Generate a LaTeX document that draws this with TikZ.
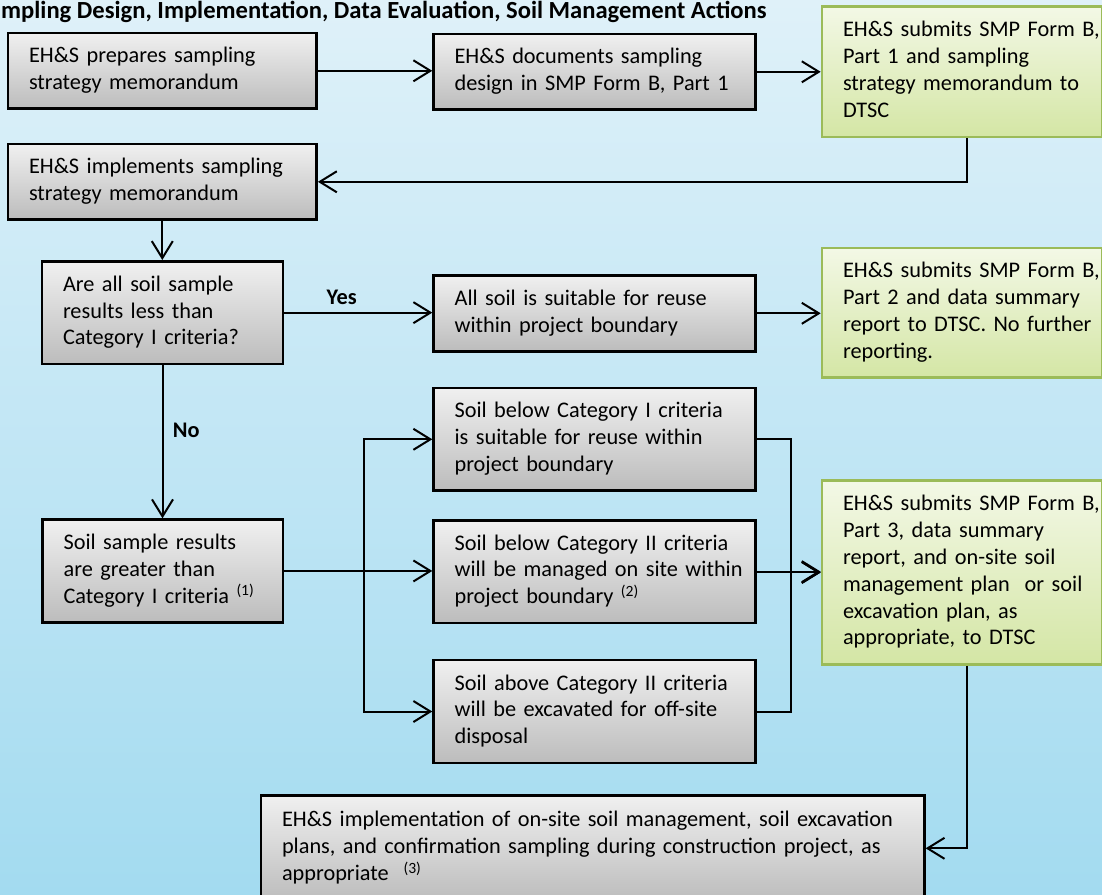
\documentclass[tikz,border=0pt]{standalone}
\usepackage{fontspec}
\setmainfont{Carlito}
\usetikzlibrary{arrows.meta,calc}
\definecolor{bgtop}{HTML}{DFF1F9}
\definecolor{bgbot}{HTML}{A3DBF0}
\definecolor{gtop}{HTML}{F0F0F0}
\definecolor{gbot}{HTML}{BCBCBC}
\definecolor{ltop}{HTML}{F3F8E6}
\definecolor{lbot}{HTML}{D4E6A5}
\definecolor{lborder}{HTML}{9BBB59}
\newcommand{\tx}[1]{\begin{tabular}{@{}l@{}}#1\end{tabular}}
\newcommand{\sups}[1]{\textsuperscript{#1}}
\begin{document}
\begin{tikzpicture}[x=1pt,y=-1pt,
  every node/.style={font=\fontsize{22.3}{26.8}\selectfont},
  boxbase/.style={anchor=north west, align=left, inner xsep=21pt, inner ysep=0pt, line width=2.6pt},
  gbox/.style={boxbase, draw=black, top color=gtop, bottom color=gbot},
  lbox/.style={boxbase, draw=lborder, top color=ltop, bottom color=lbot},
  conn/.style={draw=black, line width=2pt, -{Straight Barb[length=17pt,width=21pt]}},
  lbl/.style={font=\bfseries\fontsize{22.3}{26.8}\selectfont, inner sep=0pt}]
\useasboundingbox (0,0) rectangle (1102,894);
\clip (0,0) rectangle (1102,894);
\fill[top color=bgtop, bottom color=bgbot] (0,0) rectangle (1102,894);

\node[lbl, anchor=base west, font=\bfseries\fontsize{24.6}{30}\selectfont] (title) at (1,18) {mpling Design, Implementation, Data Evaluation, Soil Management Actions};

\node[gbox, minimum width=308.6pt, minimum height=75.6pt, text width=266.6pt] (A) at (6.7,31.7)
  {\tx{EH\&S prepares sampling\\strategy memorandum}};
\node[gbox, minimum width=321.7pt, minimum height=75.6pt, text width=279.7pt] (B) at (432.3,32.7)
  {\tx{EH\&S documents sampling\\design in SMP Form B, Part 1}};
\node[lbox, minimum width=280.3pt, minimum height=130.4pt, text width=238.3pt] (C) at (820.7,5.3)
  {\tx{EH\&S submits SMP Form B,\\Part 1 and sampling\\strategy memorandum to\\DTSC}};
\node[gbox, minimum width=308.6pt, minimum height=75.6pt, text width=266.6pt] (D) at (6.7,142.7)
  {\tx{EH\&S implements sampling\\strategy memorandum}};
\node[gbox, minimum width=241pt, minimum height=102.7pt, text width=199pt] (E) at (40.7,260)
  {\tx{Are all soil sample\\results less than\\Category I criteria?}};
\node[gbox, minimum width=321.7pt, minimum height=76pt, text width=279.7pt] (F) at (432.3,274)
  {\tx{All soil is suitable for reuse\\within project boundary}};
\node[lbox, minimum width=280.3pt, minimum height=129.3pt, text width=238.3pt] (G) at (820.7,246.7)
  {\tx{EH\&S submits SMP Form B,\\Part 2 and data summary\\report to DTSC. No further\\reporting.}};
\node[gbox, minimum width=240.4pt, minimum height=102.7pt, text width=198.4pt] (H) at (41.3,518.3)
  {\tx{Soil sample results\\are greater than\\Category I criteria \sups{(1)}}};
\node[gbox, minimum width=321.7pt, minimum height=102.6pt, text width=279.7pt] (I1) at (432.3,386.7)
  {\tx{Soil below Category I criteria\\is suitable for reuse within\\project boundary}};
\node[gbox, minimum width=321.7pt, minimum height=102.7pt, text width=279.7pt] (I2) at (432.3,519)
  {\tx{Soil below Category II criteria\\will be managed on site within\\project boundary \sups{(2)}}};
\node[gbox, minimum width=321.7pt, minimum height=103pt, text width=279.7pt] (I3) at (432.3,658.7)
  {\tx{Soil above Category II criteria\\will be excavated for off-site\\disposal}};
\node[lbox, minimum width=280.3pt, minimum height=184.3pt, text width=238.3pt] (J) at (820.7,479)
  {\tx{EH\&S submits SMP Form B,\\Part 3, data summary\\report, and on-site soil\\management plan\ \ or soil\\excavation plan, as\\appropriate, to DTSC}};
\node[gbox, minimum width=663.3pt, minimum height=106pt, text width=621.3pt] (K) at (259.7,794)
  {\tx{EH\&S implementation of on-site soil management, soil excavation\\plans, and confirmation sampling during construction project, as\\appropriate\ \ \sups{(3)}}};

\coordinate (lb) at (363.7,0);
\coordinate (rb) at (791,0);
\coordinate (cx) at (967,0);

\draw[conn] (A.east) -- (A.east -| B.west);
\draw[conn] (B.east) -- (B.east -| C.west);
\draw[conn] (C.south -| cx) |- (D.east);
\draw[conn] (D.south) -- (D.south |- E.north);
\draw[conn] (E.east) -- (E.east -| F.west);
\node[lbl] (yes) at (341.7,297) {Yes};
\draw[conn] (F.east) -- (F.east -| G.west);
\draw[conn] (E.south) -- (E.south |- H.north);
\node[lbl, anchor=west] (no) at (172.7,430) {No};
\draw[conn] (H.east) -- (H.east -| I2.west);
\draw[conn] (H.east -| lb) |- (I1.west);
\draw[conn] (H.east -| lb) |- (I3.west);
\draw[conn] (I1.east) -- (I1.east -| rb) |- (J.west);
\draw[conn] (I2.east) -- (I2.east -| J.west);
\draw[conn] (I3.east) -- (I3.east -| rb) |- (J.west);
\draw[conn] (J.south -| cx) |- (K.east);
\end{tikzpicture}
\end{document}
